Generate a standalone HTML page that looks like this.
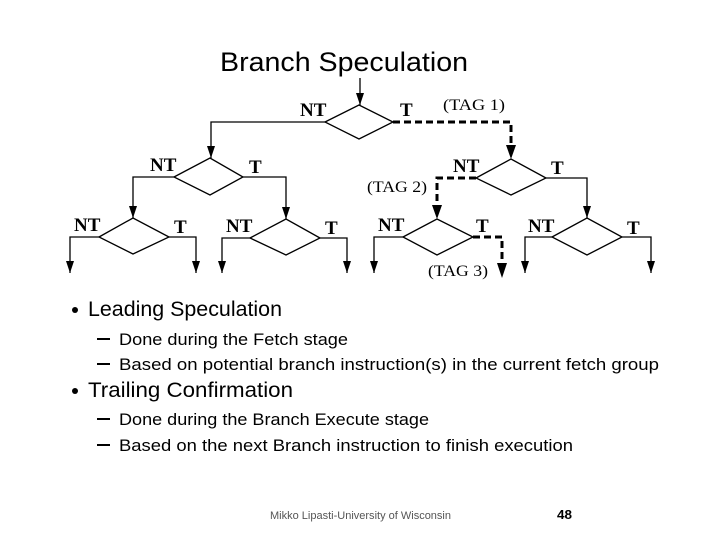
<!DOCTYPE html>
<html><head><meta charset="utf-8"><style>
html,body{margin:0;padding:0;background:#fff;}
svg{display:block;}
</style></head><body>
<svg width="720" height="540" viewBox="0 0 720 540" xmlns="http://www.w3.org/2000/svg">
<defs>
<marker id="a" markerWidth="12" markerHeight="8" refX="12" refY="4" orient="auto" markerUnits="userSpaceOnUse" viewBox="0 0 12 8"><path d="M0,0 L12,4 L0,8 Z" fill="#000"/></marker>
</defs>
<text x="220" y="71" font-family="Liberation Sans, sans-serif" font-size="27" textLength="248" lengthAdjust="spacingAndGlyphs">Branch Speculation</text>

<g fill="none" stroke="#000" stroke-width="1.3">
<polygon points="325,122 359,105 393,122 359,139"/>
<polygon points="174,177 210,158 243,177 210,195"/>
<polygon points="476,178 511,159 546,178 511,195"/>
<polygon points="99,237 133,218 169,237 133,254"/>
<polygon points="250,238 286,219 320,238 286,255"/>
<polygon points="403,237 437,219 473,237 437,255"/>
<polygon points="552,237 587,218 622,237 587,255"/>
<path d="M360,78 V105" marker-end="url(#a)"/>
<path d="M325,122 H211 V158" marker-end="url(#a)"/>
<path d="M174,177 H133 V218" marker-end="url(#a)"/>
<path d="M243,177 H286 V219" marker-end="url(#a)"/>
<path d="M99,237 H70 V273" marker-end="url(#a)"/>
<path d="M169,237 H196 V273" marker-end="url(#a)"/>
<path d="M250,238 H222 V273" marker-end="url(#a)"/>
<path d="M320,238 H347 V273" marker-end="url(#a)"/>
<path d="M546,178 H587 V218" marker-end="url(#a)"/>
<path d="M403,237 H374 V273" marker-end="url(#a)"/>
<path d="M552,237 H525 V273" marker-end="url(#a)"/>
<path d="M622,237 H651 V273" marker-end="url(#a)"/>
</g>
<g fill="none" stroke="#000" stroke-width="3" stroke-dasharray="7,4">
<path d="M393,122 H511 V147"/>
<path d="M476,178 H437 V207"/>
<path d="M473,237 H502 V264"/>
</g>
<g fill="#000">
<path d="M506,145 L516,145 L511,159 Z"/>
<path d="M432,205 L442,205 L437,219 Z"/>
<path d="M497,263 L507,263 L502,278 Z"/>
</g>

<g font-family="Liberation Serif, serif" font-weight="bold" font-size="19">
<text x="300" y="116">NT</text><text x="400" y="116">T</text>
<text x="150" y="171">NT</text><text x="249" y="173">T</text>
<text x="453" y="172">NT</text><text x="551" y="174">T</text>
<text x="74" y="231">NT</text><text x="174" y="233">T</text>
<text x="226" y="232">NT</text><text x="325" y="234">T</text>
<text x="378" y="231">NT</text><text x="476" y="232">T</text>
<text x="528" y="232">NT</text><text x="627" y="234">T</text>
</g>
<g font-family="Liberation Serif, serif" font-size="16">
<text x="443" y="110" textLength="62" lengthAdjust="spacingAndGlyphs">(TAG 1)</text>
<text x="367" y="192" textLength="60" lengthAdjust="spacingAndGlyphs">(TAG 2)</text>
<text x="428" y="276" textLength="60" lengthAdjust="spacingAndGlyphs">(TAG 3)</text>
</g>

<g font-family="Liberation Sans, sans-serif">
<circle cx="75" cy="310" r="3" fill="#000"/>
<text x="88" y="316" font-size="21" textLength="194" lengthAdjust="spacingAndGlyphs">Leading Speculation</text>
<rect x="97" y="338" width="13" height="2" fill="#000"/>
<text x="119" y="345" font-size="17" textLength="229" lengthAdjust="spacingAndGlyphs">Done during the Fetch stage</text>
<rect x="97" y="363" width="13" height="2" fill="#000"/>
<text x="119" y="370" font-size="17" textLength="540" lengthAdjust="spacingAndGlyphs">Based on potential branch instruction(s) in the current fetch group</text>
<circle cx="75" cy="391" r="3" fill="#000"/>
<text x="88" y="397" font-size="21" textLength="205" lengthAdjust="spacingAndGlyphs">Trailing Confirmation</text>
<rect x="97" y="418" width="13" height="2" fill="#000"/>
<text x="119" y="425" font-size="17" textLength="310" lengthAdjust="spacingAndGlyphs">Done during the Branch Execute stage</text>
<rect x="97" y="444" width="13" height="2" fill="#000"/>
<text x="119" y="451" font-size="17" textLength="454" lengthAdjust="spacingAndGlyphs">Based on the next Branch instruction to finish execution</text>
<text x="270" y="519" font-size="11" fill="#555" textLength="181" lengthAdjust="spacingAndGlyphs">Mikko Lipasti-University of Wisconsin</text>
<text x="557" y="519" font-size="13" font-weight="bold" textLength="15" lengthAdjust="spacingAndGlyphs">48</text>
</g>
</svg>
</body></html>
